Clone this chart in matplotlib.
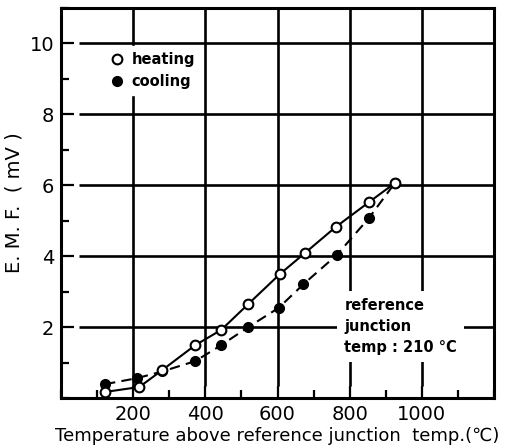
import numpy as np
import matplotlib
matplotlib.use("Agg")
from matplotlib import pyplot as plt
from matplotlib.ticker import MultipleLocator

# values
heat_t = [122, 217, 281, 372, 444, 519, 606, 675, 761, 853, 925]
heat_emf = [0.17, 0.31, 0.79, 1.49, 1.92, 2.65, 3.49, 4.08, 4.82, 5.52, 6.06]
cool_t = [122, 211, 281, 372, 444, 519, 603, 672, 764, 853, 925]
cool_emf = [0.39, 0.56, 0.75, 1.04, 1.49, 2.00, 2.54, 3.21, 4.03, 5.07, 6.06]

x_ticks = [200, 400, 600, 800, 1000]
y_ticks = [2, 4, 6, 8, 10]

plt.rcParams["font.family"] = "DejaVu Sans"

fig = plt.figure(figsize=(5.26, 4.48), dpi=100)
ax = fig.add_axes([61 / 526, 50 / 448, 433 / 526, 390 / 448])

# grid, drawn by hand so it stops short of the left axis like the print
ax.hlines(y_ticks, 50, 1200, color="black", lw=1.9, zorder=1)
ax.vlines(x_ticks, 0.35, 11, color="black", lw=1.9, zorder=1)

ax.plot(heat_t, heat_emf, "-", color="black", lw=1.5, marker="o", ms=7,
        mfc="white", mec="black", mew=1.5, label="heating", zorder=4)
ax.plot(cool_t, cool_emf, "--", color="black", lw=1.5, dashes=(5, 3), marker="o",
        ms=7, mfc="black", mec="black", label="cooling", zorder=3)

ax.set_xlim(0, 1200)
ax.set_ylim(0, 11)
ax.set_xticks(x_ticks)
ax.set_yticks(y_ticks)
ax.xaxis.set_minor_locator(MultipleLocator(100))
ax.yaxis.set_minor_locator(MultipleLocator(1))
ax.tick_params(which="major", direction="in", length=9, width=1.6, labelsize=14,
               top=False, right=False, pad=5)
ax.tick_params(which="minor", direction="in", length=6, width=1.6,
               top=False, right=False)
for s in ax.spines.values():
    s.set_linewidth(2.2)

ax.set_xlabel("Temperature above reference junction  temp.(\u2103)", fontsize=13, labelpad=2)
ax.set_ylabel("E. M. F.  ( mV )", fontsize=14, labelpad=4)

leg = ax.legend(loc="upper left", bbox_to_anchor=(0.085, 0.92), frameon=True,
                fontsize=10.5, handlelength=0.8, handletextpad=0.6,
                borderpad=0.4, labelspacing=0.45, fancybox=False)
leg.get_frame().set_edgecolor("white")
leg.get_frame().set_facecolor("white")
leg.get_frame().set_alpha(1)
for h in leg.legend_handles:
    h.set_linestyle("none")
for t in leg.get_texts():
    t.set_fontweight("bold")

ax.text(785, 2.82, "reference\njunction\ntemp : 210 \u00b0C", fontsize=10.5,
        fontweight="bold", va="top", ha="left", linespacing=1.5, zorder=5,
        bbox=dict(facecolor="white", edgecolor="none", pad=5))

fig.savefig("out.png", dpi=100)
